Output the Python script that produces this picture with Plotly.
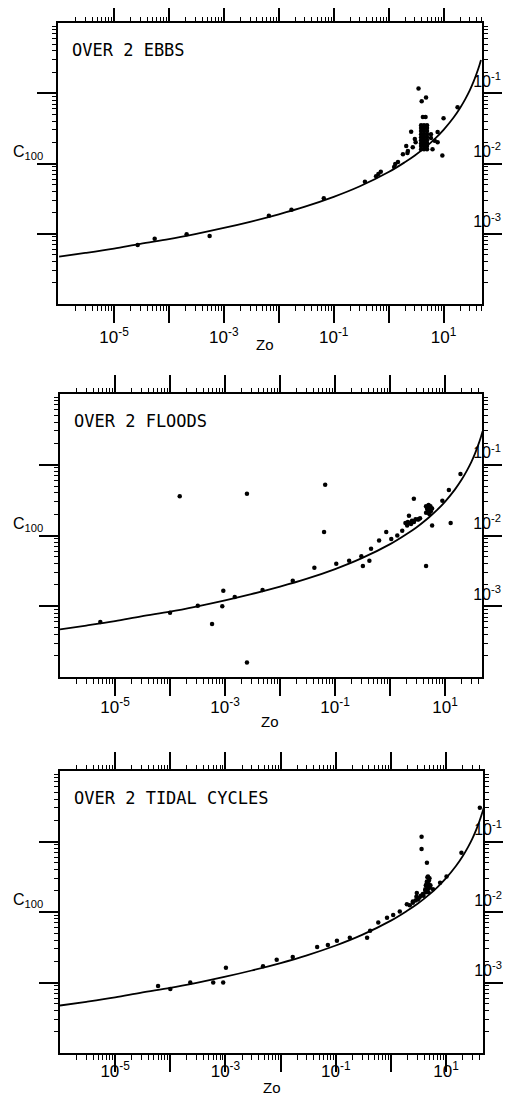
import plotly.graph_objects as go

# ---------------- data ----------------
CURVE_Z0 = [1e-6, 3e-6, 1e-5, 3e-5, 1e-4, 3e-4, 1e-3, 3e-3, 1e-2, 3e-2, 0.1, 0.3,
            1, 2, 3, 5, 7, 10, 15, 20, 25, 30, 35, 40, 45, 48]
CURVE_C100 = [4.72e-4, 5.33e-4, 6.16e-4, 7.20e-4, 8.38e-4, 9.89e-4, 1.21e-3, 1.48e-3,
              1.89e-3, 2.43e-3, 3.35e-3, 4.74e-3, 7.55e-3, 1.05e-2, 1.30e-2, 1.78e-2,
              2.26e-2, 3.02e-2, 4.45e-2, 6.18e-2, 8.33e-2, 0.110, 0.145, 0.191, 0.251, 0.297]

EBB_Z0 = [2.7e-5, 5.5e-5, 2.1e-4, 5.5e-4, 6.6e-3, 1.7e-2, 6.6e-2, 0.37, 0.59, 0.65, 0.72,
          1.26, 1.32, 1.48, 1.82, 2.09, 2.2, 2.24, 2.57, 2.75, 3.0, 3.1,
          3.9, 4.4, 5.0, 3.9, 4.4, 5.0, 3.9, 4.4, 5.0, 3.9, 4.4, 5.0, 3.9, 4.4, 5.0,
          3.9, 4.4, 5.0, 3.9, 4.4, 5.0, 3.9, 4.4, 5.0, 3.9, 4.4, 5.0,
          4.2, 4.0, 3.5, 4.8, 4.7, 5.9, 6.9, 7.8, 6.3, 9.5, 10, 18, 5.9, 7.8]
EBB_C100 = [6.9e-4, 8.5e-4, 9.8e-4, 9.3e-4, 1.8e-3, 2.2e-3, 3.2e-3, 5.5e-3, 6.6e-3, 7.1e-3, 7.6e-3,
            8.9e-3, 9.8e-3, 1.05e-2, 1.35e-2, 1.78e-2, 1.41e-2, 1.51e-2, 2.82e-2, 1.70e-2, 2.24e-2, 2.0e-2,
            0.016, 0.016, 0.016, 0.0177, 0.0177, 0.0177, 0.0195, 0.0195, 0.0195,
            0.0215, 0.0215, 0.0215, 0.0237, 0.0237, 0.0237, 0.026, 0.026, 0.026,
            0.029, 0.029, 0.029, 0.032, 0.032, 0.032, 0.035, 0.035, 0.035,
            4.6e-2, 7.7e-2, 1.17e-1, 8.7e-2, 4.6e-2, 2.3e-2, 2.1e-2, 2.0e-2, 1.6e-2, 1.3e-2, 4.4e-2, 6.3e-2, 2.6e-2, 2.8e-2]

FLOOD_Z0 = [5.4e-6, 1.0e-4, 1.5e-4, 3.2e-4, 5.8e-4, 9.3e-4, 8.9e-4, 1.5e-3, 2.5e-3, 2.5e-3,
            4.8e-3, 1.7e-2, 4.2e-2, 6.6e-2, 6.3e-2, 0.105, 0.18, 0.30, 0.32, 0.45, 0.42,
            0.63, 0.85, 1.05, 1.35, 1.66, 2.04, 2.4, 2.7, 3.3, 2.2, 2.7, 4.5, 5.1, 4.7, 5.5,
            4.5, 5.8, 12.6, 11.7, 19, 8.9,
            1.9, 2.1, 2.3, 2.5, 2.7, 2.9, 3.2, 3.5,
            4.5, 4.8, 5.1, 5.5, 5.0, 5.4, 4.7, 5.8, 5.2]
FLOOD_C100 = [6.0e-4, 8.1e-4, 3.6e-2, 1.02e-3, 5.6e-4, 1.66e-3, 1.0e-3, 1.35e-3, 3.9e-2, 1.6e-4,
              1.7e-3, 2.3e-3, 3.5e-3, 5.2e-2, 1.12e-2, 4.0e-3, 4.4e-3, 5.1e-3, 3.7e-3, 6.5e-3, 4.4e-3,
              8.5e-3, 1.12e-2, 8.9e-3, 1.0e-2, 1.17e-2, 1.38e-2, 1.45e-2, 1.55e-2, 1.70e-2, 1.90e-2, 3.3e-2,
              2.6e-2, 2.1e-2, 2.5e-2, 2.4e-2, 3.7e-3, 1.38e-2, 1.5e-2, 4.4e-2, 7.4e-2, 3.1e-2,
              0.0150, 0.0155, 0.0150, 0.0162, 0.0158, 0.0170, 0.0168, 0.0175,
              0.021, 0.023, 0.025, 0.022, 0.027, 0.026, 0.024, 0.024, 0.020]

TIDAL_Z0 = [6.0e-5, 1.0e-4, 2.3e-4, 6.0e-4, 9.1e-4, 1.02e-3, 4.8e-3, 8.5e-3, 1.66e-2, 4.6e-2,
            7.2e-2, 0.105, 0.18, 0.37, 0.42, 0.59, 0.85, 1.1, 1.45, 1.95, 2.5, 3.1, 2.95,
            4.2, 4.5, 4.7, 5.1, 5.8, 7.8, 10.2, 19, 3.6, 3.6, 4.5, 41, 4.3, 4.8, 3.9,
            4.2, 4.6, 5.0, 4.4, 4.8, 5.2, 4.5, 4.9, 4.6, 5.0, 4.3, 4.8,
            2.2, 2.5, 2.8, 3.1, 3.3, 2.9, 3.5, 3.8]
TIDAL_C100 = [8.9e-4, 8.1e-4, 1.0e-3, 1.0e-3, 1.0e-3, 1.62e-3, 1.7e-3, 2.1e-3, 2.3e-3, 3.2e-3,
              3.4e-3, 3.9e-3, 4.3e-3, 4.3e-3, 5.4e-3, 7.1e-3, 8.3e-3, 9.1e-3, 1.02e-2, 1.29e-2, 1.41e-2,
              1.58e-2, 1.86e-2, 2.0e-2, 2.6e-2, 3.2e-2, 2.3e-2, 2.1e-2, 2.6e-2, 3.2e-2, 6.9e-2,
              1.17e-1, 7.8e-2, 5.0e-2, 3.0e-1, 2.4e-2, 2.2e-2, 1.7e-2,
              0.021, 0.021, 0.022, 0.024, 0.025, 0.024, 0.027, 0.028, 0.031, 0.030, 0.019, 0.019,
              0.0125, 0.0135, 0.0145, 0.015, 0.016, 0.0165, 0.017, 0.018]

PANEL_TITLES = ["OVER 2 EBBS", "OVER 2 FLOODS", "OVER 2 TIDAL CYCLES"]
X_MAJOR = [1e-5, 1e-4, 1e-3, 1e-2, 1e-1, 1e0, 1e1]
X_MAJOR_TEXT = ["10<sup>-5</sup>", "", "10<sup>-3</sup>", "", "10<sup>-1</sup>", "", "10<sup>1</sup>"]
Y_MAJOR = [1e-3, 1e-2, 1e-1]
Y_MAJOR_TEXT = ["10<sup>-3</sup>", "10<sup>-2</sup>", "10<sup>-1</sup>"]
X_TITLE = "Zo"
Y_TITLE = "C<sub>100</sub>"

# ---------------- layout geometry ----------------
PAGE_W, PAGE_H = 527, 1098
OFF = 8                      # default body margin of the html page
W, H = PAGE_W - OFF, PAGE_H - OFF
FRAMES = [(58, 482, 23, 304), (60, 482, 394, 677), (60, 483, 771, 1053)]  # page px: l, r, t, b
XRANGES = [[-6.02, 1.70], [-6.0, 1.67], [-6.0, 1.67]]
YRANGE = [-4.0, 0.0]
ZO_POS = [(265, 344), (270, 721), (272, 1087)]   # page px
XLABEL_SHIFT = [0, -3, -15]

X_MINOR = [k * 10.0 ** d for d in range(-7, 3) for k in range(2, 10)]
Y_MINOR = [k * 10.0 ** d for d in range(-5, 1) for k in range(2, 10)]

series = [(EBB_Z0, EBB_C100), (FLOOD_Z0, FLOOD_C100), (TIDAL_Z0, TIDAL_C100)]

fig = go.Figure()
layout = dict(width=W, height=H, template="none",
              margin=dict(l=0, r=0, t=0, b=0, autoexpand=False),
              paper_bgcolor="white", plot_bgcolor="white", showlegend=False,
              font=dict(family="Liberation Sans, Arial, sans-serif", color="black", size=15))
annotations = []

BASE = dict(type="log", showgrid=False, zeroline=False, automargin=False,
            ticks="outside", tickcolor="black")
MAJOR = dict(BASE, showline=True, linecolor="black", linewidth=2, tickwidth=1.5)
MINOR = dict(BASE, showline=False, tickwidth=1, showticklabels=False, tickmode="array")


def name(prefix, n):
    return prefix if n == 1 else f"{prefix}{n}"


for i, ((l, r, t, b), xr, (zx, zy)) in enumerate(zip(FRAMES, XRANGES, ZO_POS)):
    l, r, t, b = l - OFF, r - OFF, t - OFF, b - OFF
    zx, zy = zx - OFF, zy - OFF
    n1, n2, n3, n4 = 4 * i + 1, 4 * i + 2, 4 * i + 3, 4 * i + 4
    xb, yl = name("x", n1), name("y", n1)      # bottom / left (major)
    xt, yr = name("x", n2), name("y", n2)      # top / right (major)
    xbm, ylm = name("x", n3), name("y", n3)    # bottom / left (minor ticks)
    xtm, yrm = name("x", n4), name("y", n4)    # top / right (minor ticks)
    xdom = [l / W, r / W]
    ydom = [1 - b / H, 1 - t / H]
    zx_vals, zc_vals = series[i]

    fig.add_trace(go.Scatter(x=CURVE_Z0, y=CURVE_C100, mode="lines",
                             line=dict(color="black", width=1.8, shape="spline"),
                             xaxis=xb, yaxis=yl, hoverinfo="skip"))
    fig.add_trace(go.Scatter(x=zx_vals, y=zc_vals, mode="markers",
                             marker=dict(color="black", size=4.5, symbol="circle"),
                             xaxis=xb, yaxis=yl))
    for xa, ya in [(xt, yr), (xbm, ylm), (xtm, yrm)]:
        fig.add_trace(go.Scatter(x=[None], y=[None], mode="markers", xaxis=xa, yaxis=ya,
                                 hoverinfo="skip"))

    layout[name("xaxis", n1)] = dict(MAJOR, range=xr, domain=xdom, anchor=yl,
                                     tickmode="array", tickvals=X_MAJOR, ticktext=X_MAJOR_TEXT,
                                     ticklen=17, tickfont=dict(size=17, color="black"),
                                     ticklabelstandoff=XLABEL_SHIFT[i])
    layout[name("xaxis", n2)] = dict(MAJOR, range=xr, overlaying=xb, side="top", anchor=yr,
                                     tickmode="array", tickvals=X_MAJOR, showticklabels=False,
                                     ticklen=17)
    layout[name("xaxis", n3)] = dict(MINOR, range=xr, overlaying=xb, side="bottom", anchor=ylm,
                                     tickvals=X_MINOR, ticklen=6)
    layout[name("xaxis", n4)] = dict(MINOR, range=xr, overlaying=xb, side="top", anchor=yrm,
                                     tickvals=X_MINOR, ticklen=5)

    layout[name("yaxis", n1)] = dict(MAJOR, range=YRANGE, domain=ydom, anchor=xb,
                                     tickmode="array", tickvals=Y_MAJOR, showticklabels=False,
                                     ticklen=19)
    layout[name("yaxis", n2)] = dict(MAJOR, range=YRANGE, overlaying=yl, side="right", anchor=xt,
                                     tickmode="array", tickvals=Y_MAJOR, ticktext=Y_MAJOR_TEXT,
                                     ticklen=18, ticklabelposition="outside top",
                                     ticklabelstandoff=-14, tickfont=dict(size=16, color="black"))
    layout[name("yaxis", n3)] = dict(MINOR, range=YRANGE, overlaying=yl, side="left", anchor=xbm,
                                     tickvals=Y_MINOR, ticklen=5)
    layout[name("yaxis", n4)] = dict(MINOR, range=YRANGE, overlaying=yl, side="right", anchor=xtm,
                                     tickvals=Y_MINOR, ticklen=5)

    annotations.append(dict(text=PANEL_TITLES[i], xref=f"{xb} domain", yref=f"{yl} domain",
                            x=12 / (r - l), y=1 - 27 / (b - t), xanchor="left", yanchor="middle",
                            showarrow=False,
                            font=dict(family="DejaVu Sans Mono, monospace", size=17, color="black")))
    annotations.append(dict(text=Y_TITLE, xref="paper", yref=yl, x=3 / W, y=-2,
                            xanchor="left", yanchor="bottom", showarrow=False,
                            font=dict(size=16, color="black")))
    annotations.append(dict(text=X_TITLE, xref="paper", yref="paper", x=zx / W, y=1 - zy / H,
                            xanchor="center", yanchor="middle", showarrow=False,
                            font=dict(size=15, color="black")))

layout["annotations"] = annotations
fig.update_layout(**layout)
fig.write_html("out.html")
